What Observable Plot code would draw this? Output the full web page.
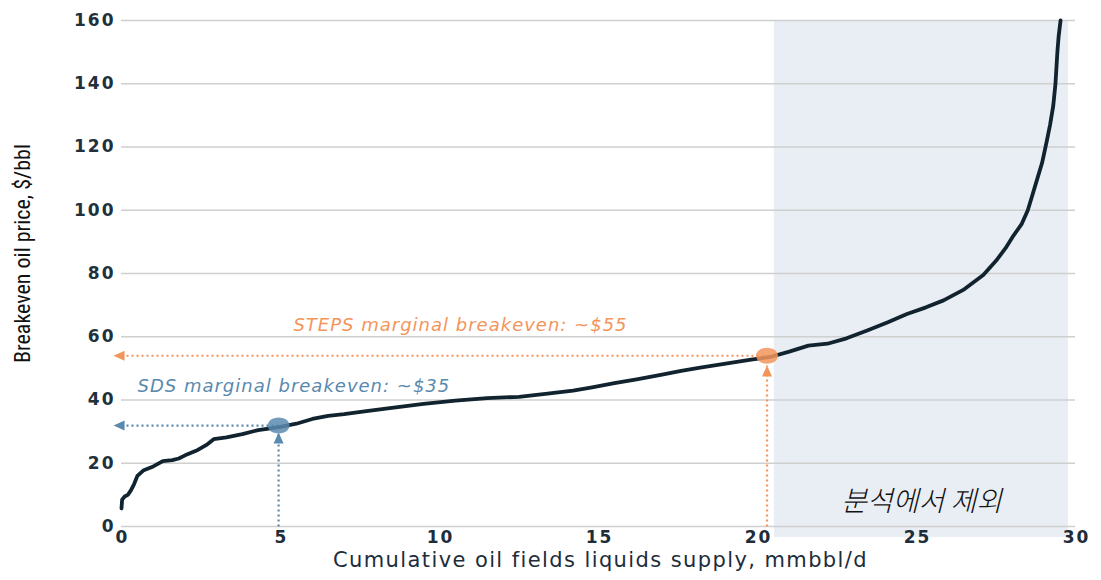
<!DOCTYPE html>
<html>
<head>
<meta charset="utf-8">
<script src="https://cdn.jsdelivr.net/npm/d3@7"></script>
<script src="https://cdn.jsdelivr.net/npm/@observablehq/plot@0.6"></script>
<style>
  html, body { margin: 0; padding: 0; background: #fff; }
  #chart { width: 1101px; height: 580px; }
  g[aria-label="y-axis tick label"] text, g[aria-label="x-axis tick label"] text { letter-spacing: 2px; }
</style>
</head>
<body>
<div id="chart"></div>
<script>
// Cumulative supply (mmbbl/d) and breakeven price ($/bbl)
const supplyX = [0, 0.02, 0.1, 0.2, 0.3, 0.4, 0.5, 0.7, 1.0, 1.3, 1.6, 1.8, 2.0, 2.4, 2.7, 2.9, 3.3, 3.8, 4.3, 5.0,
  5.5, 6.0, 6.5, 7.0, 7.7, 8.5, 9.5, 10.5, 11.5, 12.5, 13.4, 14.2, 14.8, 15.5, 16.2, 17.0, 17.6, 18.2, 19.0, 19.8,
  20.4, 21.0, 21.6, 22.2, 22.8, 23.45, 24.1, 24.7, 25.3, 25.85, 26.5, 27.1, 27.5, 27.8, 28.05, 28.3, 28.5, 28.65,
  28.8, 28.95, 29.1, 29.2, 29.3, 29.37, 29.43, 29.47, 29.53];
const priceY = [5.7, 8.5, 9.5, 10, 11.5, 13.5, 16, 17.8, 19, 20.7, 21, 21.5, 22.5, 24.2, 26, 27.6, 28.2, 29.2, 30.5, 31.5,
  32.5, 34, 35, 35.5, 36.5, 37.5, 38.8, 39.8, 40.6, 41, 42, 43, 44, 45.3, 46.5, 48, 49.2, 50.2, 51.5, 52.8,
  53.6, 55.3, 57.2, 57.8, 59.5, 62, 64.6, 67.2, 69.3, 71.5, 75, 79.5, 84, 88, 92, 95.5, 100, 105,
  110, 115, 122, 127, 133, 140, 150, 155, 160];

const xTicks = [0, 5, 10, 15, 20, 25, 30];
const yTicks = [0, 20, 40, 60, 80, 100, 120, 140, 160];

// Markers (scenario breakevens)
const markerNames = ["SDS", "STEPS"];
const markerX = [4.94, 20.3];
const markerY = [31.9, 54.0];
const markerColors = ["#5a89ae", "#f3955a"];
const arrowUpTipY = [29.7, 50.9];
const arrowLeftTipX = -0.25;
const labelTexts = ["SDS marginal breakeven: ~$35", "STEPS marginal breakeven: ~$55"];
const labelX = [5.42, 10.66];
const labelY = [44.5, 63.5];

// Excluded region
const excludedX = [20.53, 29.78];
const excludedY = [-3.5, 160];
const excludedText = "분석에서 제외";
const excludedTextX = 25.16;
const excludedTextY = 7.6;

const xTitle = "Cumulative oil fields liquids supply, mmbbl/d";
const yTitle = "Breakeven oil price, $/bbl";

const curve = supplyX.map((x, i) => ({x, y: priceY[i]}));
const markers = markerNames.map((n, i) => ({
  name: n, x: markerX[i], y: markerY[i], color: markerColors[i],
  upTip: arrowUpTipY[i], label: labelTexts[i], lx: labelX[i], ly: labelY[i]
}));

const ellipseSymbol = {
  draw(ctx) {
    const rx = 11, ry = 8, k = 0.5523;
    ctx.moveTo(rx, 0);
    ctx.bezierCurveTo(rx, ry * k, rx * k, ry, 0, ry);
    ctx.bezierCurveTo(-rx * k, ry, -rx, ry * k, -rx, 0);
    ctx.bezierCurveTo(-rx, -ry * k, -rx * k, -ry, 0, -ry);
    ctx.bezierCurveTo(rx * k, -ry, rx, -ry * k, rx, 0);
    ctx.closePath();
  }
};
const leftTri = { draw(ctx) { ctx.moveTo(0, 0); ctx.lineTo(11, -5); ctx.lineTo(11, 5); ctx.closePath(); } };
const upTri = { draw(ctx) { ctx.moveTo(0, 0); ctx.lineTo(5, 11); ctx.lineTo(-5, 11); ctx.closePath(); } };

const plot = Plot.plot({
  width: 1101,
  height: 580,
  marginLeft: 121,
  marginRight: 26,
  marginTop: 20,
  marginBottom: 54,
  style: { fontFamily: "'DejaVu Sans', sans-serif", background: "#fff", overflow: "visible" },
  x: { domain: [0, 30] },
  y: { domain: [0, 160] },
  marks: [
    Plot.rect([{x1: excludedX[0], x2: excludedX[1], y1: excludedY[0], y2: excludedY[1]}],
      {x1: "x1", x2: "x2", y1: "y1", y2: "y2", fill: "#e9eef4"}),
    Plot.gridY(yTicks, {stroke: "#cfcfcf", strokeOpacity: 1, strokeWidth: 1.5}),
    Plot.axisY({ticks: yTicks, tickSize: 0, tickPadding: 6, label: null, fontSize: 17, fontWeight: "bold",
      fill: "#22303a"}),
    Plot.axisX({ticks: xTicks, tickSize: 0, tickPadding: 4, label: null, fontSize: 17, fontWeight: "bold",
      fill: "#1d2d3a", dx: 1}),
    // horizontal dotted leaders
    Plot.link(markers, {x1: 0, x2: "x", y1: "y", y2: "y", stroke: "color", strokeWidth: 2.2, strokeDasharray: "2,3"}),
    // vertical dotted leaders
    Plot.link(markers, {x1: "x", x2: "x", y1: 0, y2: "upTip", stroke: "color", strokeWidth: 2.2, strokeDasharray: "2,3"}),
    Plot.dot(markers, {x: arrowLeftTipX, y: "y", symbol: leftTri, fill: "color", stroke: null, r: 5}),
    Plot.dot(markers, {x: "x", y: "upTip", symbol: upTri, fill: "color", stroke: null, r: 5}),
    // supply curve
    Plot.line(curve, {x: "x", y: "y", stroke: "#10232f", strokeWidth: 3.8, curve: "linear"}),
    Plot.dot(markers, {x: "x", y: "y", symbol: ellipseSymbol, fill: "color", fillOpacity: 0.85, stroke: null, r: 8}),
    Plot.text(markers, {x: "lx", y: "ly", text: "label", fill: "color", fontSize: 18, fontStyle: "italic"}),
    Plot.text([excludedText], {x: excludedTextX, y: excludedTextY, fontSize: 28, fontStyle: "italic",
      fill: "#111", fontWeight: 300, fontFamily: "'Noto Sans CJK KR', sans-serif"}),
    Plot.text([yTitle], {frameAnchor: "left", dx: -99, dy: -20, rotate: -90, fontSize: 22, textAnchor: "middle",
      fill: "#111", fontFamily: "'Liberation Sans Narrow', 'Roboto Condensed', sans-serif"}),
    Plot.text([xTitle], {frameAnchor: "bottom", dy: 40, dx: 2, fontSize: 21, fill: "#1d2d3a"})
  ]
});

// letter spacing for the wide geometric look of the original
d3.select(plot).selectAll("text").each(function () {
  const t = this.textContent;
  if (t === xTitle) this.style.letterSpacing = "1.4px";
  else if (labelTexts.includes(t)) this.style.letterSpacing = "1px";
});

document.getElementById("chart").appendChild(plot);
</script>
</body>
</html>
